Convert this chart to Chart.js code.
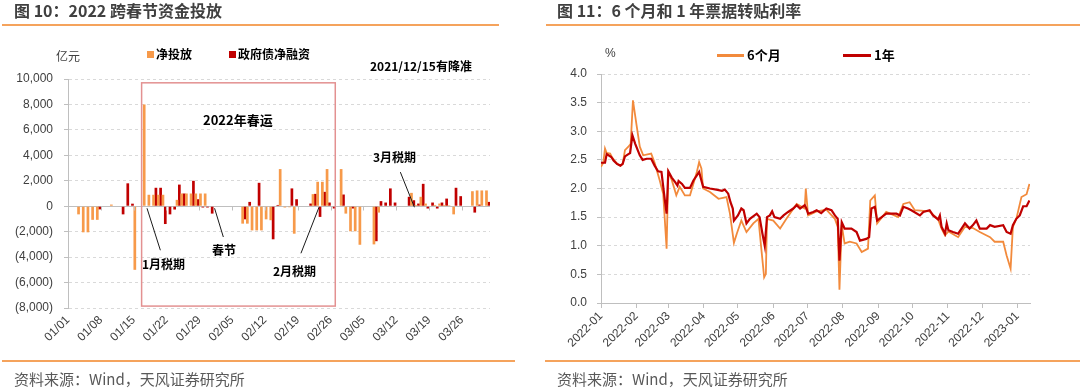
<!DOCTYPE html>
<html>
<head>
<meta charset="utf-8">
<title>2022 跨春节资金投放 / 票据转贴利率</title>
<script src="https://cdn.jsdelivr.net/npm/chart.js@4.4.1/dist/chart.umd.min.js"></script>
<style>
  body { margin: 0; width: 1080px; height: 390px; background: #fff; position: relative; overflow: hidden;
         font-family: 'Liberation Sans', 'Noto Sans CJK SC', sans-serif; }
  canvas { position: absolute; top: 0; }
  .t { position: absolute; line-height: 1; white-space: nowrap; color: #000; }
  .title { font-family: 'Noto Sans CJK SC', sans-serif; font-weight: bold; font-size: 16px; color: #404040; }
  .rule { position: absolute; height: 2px; background: #F5A35C; }
  .src { font-family: 'Noto Sans CJK SC', sans-serif; font-size: 15px; color: #595959; }
  .b { font-family: 'Noto Sans CJK SC', sans-serif; font-weight: bold; font-size: 12px; }
  .sq { position: absolute; width: 7px; height: 7px; }
  .ln { position: absolute; height: 3px; }
</style>
</head>
<body>
<canvas id="bars" width="540" height="390" style="left:0"></canvas>
<canvas id="rates" width="540" height="390" style="left:540px"></canvas>

<!-- left panel texts -->
<div class="t title" style="left:14px;top:2px">图 10：2022 跨春节资金投放</div>
<div class="rule" style="left:2px;top:24px;width:497px"></div>
<div class="t" style="left:56px;top:50px;font-size:12px;color:#404040;font-family:'Noto Sans CJK SC'">亿元</div>
<div class="sq" style="left:147px;top:51px;background:#F79A4A"></div>
<div class="t b" style="left:156px;top:48px">净投放</div>
<div class="sq" style="left:229px;top:51px;background:#C00000"></div>
<div class="t b" style="left:238px;top:48px">政府债净融资</div>
<div class="t b" style="left:370px;top:60px">2021/12/15有降准</div>
<div class="t b" style="left:203px;top:113px;font-size:13px">2022年春运</div>
<div class="t b" style="left:142px;top:258px">1月税期</div>
<div class="t b" style="left:212px;top:244px">春节</div>
<div class="t b" style="left:273px;top:265px">2月税期</div>
<div class="t b" style="left:373px;top:151px">3月税期</div>
<div class="rule" style="left:2px;top:360px;width:513px"></div>
<div class="t src" style="left:14px;top:371px">资料来源：Wind，天风证券研究所</div>

<!-- right panel texts -->
<div class="t title" style="left:557px;top:2px">图 11：6 个月和 1 年票据转贴利率</div>
<div class="rule" style="left:546px;top:24px;width:534px"></div>
<div class="t" style="left:605px;top:47px;font-size:12px;color:#404040">%</div>
<div class="ln" style="left:717px;top:54px;width:27px;background:#F28A3C"></div>
<div class="t b" style="left:747px;top:48px;font-size:13px">6个月</div>
<div class="ln" style="left:843px;top:54px;width:28px;background:#C00000"></div>
<div class="t b" style="left:874px;top:48px;font-size:13px">1年</div>
<div class="rule" style="left:545px;top:360px;width:535px"></div>
<div class="t src" style="left:557px;top:371px">资料来源：Wind，天风证券研究所</div>

<script>
// ---- chart 10: daily values, index 0 = 01/01 ... 89 = 03/31 (亿元)
const netInjection = [
  null, null, -640, -2050, -2050, -1070, -1070, null, null, 130,
  null, null, null, null, -5000, null, 8000, 900, 900, 900,
  900, null, null, 500, 1000, 1000, 1000, 1000, 1000, 1000,
  null, null, null, null, null, null, null, -1370, -1370, -1900,
  -1900, -1900, -1030, -1100, null, 2920, -100, -80, -2160, null,
  null, null, 950, 1920, 1920, 2920, null, null, 2920, -580,
  -1970, -1970, -3030, null, null, -3000, -500, null, null, null,
  null, null, null, 1050, 100, 740, 210, null, 100, 210,
  100, 80, -640, null, null, null, 1180, 1240, 1240, 1240
];
const govBondNet = [
  null, null, null, null, null, null, -250, null, null, null,
  null, -640, 1800, 200, null, null, null, null, 1450, 1450,
  -1400, -640, -260, 1700, 1000, null, 2000, 550, -100, -100,
  -580, null, null, null, null, null, null, -1030, 340, null,
  1840, null, null, -2600, 100, null, null, 1400, 550, null,
  null, 210, 970, -840, 1130, 290, -180, null, 920, null,
  -180, null, null, null, null, -2750, 400, 290, 1400, 290,
  null, null, 740, 470, 210, 1760, -180, 290, -180, 290,
  600, null, 1450, 790, null, null, -500, 130, null, 340
];
const barTickDays = [0, 7, 14, 21, 28, 35, 42, 49, 56, 63, 70, 77, 84];
const barTickLabels = ['01/01', '01/08', '01/15', '01/22', '01/29', '02/05', '02/12',
                       '02/19', '02/26', '03/05', '03/12', '03/19', '03/26'];

// annotations in data units (day, 亿元)
const springBox = { from: 15.7, to: 57, top: 9700, bottom: -7850 };
const leaderLines = [
  [16.85, -160, 19.7, -3460],   // 1月税期
  [31.26, -160, 33.13, -2420],  // 春节
  [49.68, -3700, 53.53, -80],   // 2月税期
  [70.88, 2680, 73.88, -80]     // 3月税期
];

// ---- chart 11: day offsets from 2022-01-01, rate in %
const rate1yDays = [0, 3.5, 5, 9, 11, 14, 17, 19, 21, 24, 25.5, 27.5, 30, 34, 36.5, 40, 44, 47, 50, 53,
  56, 57.5, 59, 62, 65, 67, 68, 71, 73.5, 78, 81, 84, 86, 88, 89.5, 95.5, 101, 106, 108.5, 111.5,
  113.5, 115.5, 116.5, 120, 123, 125, 127.5, 130.5, 136.5, 139, 141.5, 143.5, 145.5, 148, 150, 152, 157, 160, 164, 168.5,
  171.5, 174.5, 178.5, 180, 181.5, 186, 189, 193, 197.5, 202, 205, 207.5, 209, 211, 213.5, 219.5, 224, 227, 232.5, 235,
  237, 240, 242, 246, 250, 259, 262, 265, 269, 272, 279.5, 282.5, 288, 291, 295.5, 297, 298.5, 301.5, 303, 304.5,
  308.5, 313, 316, 319, 323, 326, 329, 332, 338, 341, 345, 352.5, 355.5, 359, 361, 364, 367, 370, 373, 375.5];
const rate1y = [2.45, 2.45, 2.60, 2.55, 2.49, 2.43, 2.40, 2.43, 2.56, 2.60, 2.62, 2.93, 2.78, 2.58, 2.50, 2.52, 2.52, 2.40, 2.30, 2.29,
  1.79, 1.56, 2.30, 2.19, 2.11, 2.05, 2.13, 2.08, 2.01, 2.01, 2.14, 2.23, 2.29, 2.14, 2.03, 2.00, 1.98, 1.96, 1.98, 1.91,
  1.76, 1.65, 1.44, 1.53, 1.65, 1.62, 1.39, 1.47, 1.56, 1.50, 1.21, 1.00, 1.50, 1.53, 1.60, 1.50, 1.47, 1.53, 1.59, 1.65,
  1.71, 1.65, 1.71, 1.65, 1.56, 1.59, 1.62, 1.57, 1.65, 1.62, 1.53, 1.47, 0.74, 1.41, 1.30, 1.30, 1.24, 1.09, 1.12, 1.15,
  1.65, 1.68, 1.44, 1.50, 1.56, 1.56, 1.53, 1.68, 1.65, 1.62, 1.53, 1.59, 1.62, 1.53, 1.46, 1.53, 1.33, 1.21, 1.39, 1.27,
  1.24, 1.21, 1.30, 1.39, 1.30, 1.36, 1.44, 1.30, 1.30, 1.36, 1.33, 1.36, 1.24, 1.21, 1.36, 1.47, 1.53, 1.69, 1.69, 1.79];
const rate6mDays = [0, 2, 3.5, 5, 8, 9.5, 14, 17, 19, 21, 24, 26, 28, 31, 34, 37, 44, 47, 51.5, 54.5,
  57.5, 59, 62, 66, 69, 73.5, 78, 84, 86, 88, 89.5, 95.5, 103, 110, 113, 116.5, 119, 123, 127.5, 133.5,
  138, 140.5, 143, 144.5, 145.5, 151, 157, 162.5, 171.5, 178.5, 179.5, 181.5, 189, 197.5, 205, 207.5, 209, 211, 213.5, 218,
  224, 228.5, 234, 236, 240, 242, 250, 260.5, 265, 270.5, 275, 288, 295.5, 298.5, 301.5, 304.5, 313, 319, 326, 332,
  338, 341, 345, 352.5, 355.5, 359, 361, 364, 368.5, 373, 375.5];
const rate6m = [2.38, 2.45, 2.70, 2.62, 2.61, 2.55, 2.43, 2.40, 2.43, 2.67, 2.73, 2.78, 3.54, 3.13, 2.73, 2.58, 2.61, 2.45, 2.14, 1.91,
  0.95, 2.29, 2.15, 1.88, 2.03, 1.88, 1.88, 2.29, 2.46, 2.35, 2.00, 1.94, 1.82, 1.85, 1.56, 1.05, 1.21, 1.44, 1.24, 1.39,
  1.47, 0.95, 0.45, 0.51, 1.47, 1.44, 1.30, 1.47, 1.73, 1.65, 2.00, 1.53, 1.60, 1.63, 1.47, 1.33, 0.23, 1.36, 1.04, 1.07,
  1.04, 0.89, 0.95, 1.79, 1.88, 1.39, 1.59, 1.50, 1.73, 1.76, 1.62, 1.60, 1.46, 1.30, 1.18, 1.25, 1.15, 1.33, 1.31, 1.24,
  1.18, 1.15, 1.07, 1.07, 0.83, 0.60, 1.33, 1.47, 1.85, 1.90, 2.08];
const rateMonthDays = [0, 31, 59, 90, 120, 151, 181, 212, 243, 273, 304, 334, 365];
const rateMonthLabels = ['2022-01', '2022-02', '2022-03', '2022-04', '2022-05', '2022-06', '2022-07',
                         '2022-08', '2022-09', '2022-10', '2022-11', '2022-12', '2023-01'];

Chart.defaults.font.family = "'Liberation Sans', 'Noto Sans CJK SC', sans-serif";
Chart.defaults.font.size = 12;
Chart.defaults.color = '#404040';

const axisGray = '#BFBFBF';
const gridGray = '#D9D9D9';

function fmtWan(v) {
  const s = Math.abs(v).toLocaleString('en-US');
  return v < 0 ? '(' + s + ')' : s;
}

const barAnnot = {
  id: 'barAnnot',
  afterDatasetsDraw(chart) {
    const { ctx, scales: { x, y } } = chart;
    ctx.save();
    // ticks on the zero line
    const y0 = Math.round(y.getPixelForValue(0)) + 0.5;
    ctx.strokeStyle = axisGray;
    ctx.lineWidth = 1;
    barTickDays.forEach(d => {
      const px = Math.round(x.getPixelForValue(d)) + 0.5;
      ctx.beginPath(); ctx.moveTo(px, y0); ctx.lineTo(px, y0 + 4); ctx.stroke();
    });
    // spring festival travel box
    ctx.strokeStyle = '#E39191';
    ctx.lineWidth = 1.5;
    const bx0 = x.getPixelForValue(springBox.from), bx1 = x.getPixelForValue(springBox.to);
    const by0 = y.getPixelForValue(springBox.top), by1 = y.getPixelForValue(springBox.bottom);
    ctx.strokeRect(bx0, by0, bx1 - bx0, by1 - by0);
    // leader lines
    ctx.strokeStyle = '#1a1a1a';
    ctx.lineWidth = 1;
    leaderLines.forEach(([d0, v0, d1, v1]) => {
      ctx.beginPath();
      ctx.moveTo(x.getPixelForValue(d0), y.getPixelForValue(v0));
      ctx.lineTo(x.getPixelForValue(d1), y.getPixelForValue(v1));
      ctx.stroke();
    });
    ctx.restore();
  }
};

new Chart(document.getElementById('bars'), {
  type: 'bar',
  data: {
    datasets: [
      { label: '净投放', data: netInjection.map((v, i) => ({ x: i + 0.5, y: v })),
        backgroundColor: '#F79A4A', categoryPercentage: 1, barPercentage: 1.15 },
      { label: '政府债净融资', data: govBondNet.map((v, i) => ({ x: i + 0.5, y: v })),
        backgroundColor: '#C00000', categoryPercentage: 1, barPercentage: 1.15 }
    ]
  },
  options: {
    responsive: false,
    animation: false,
    layout: { padding: { left: 0, top: 79, right: 50, bottom: 0 } },
    plugins: { legend: { display: false }, tooltip: { enabled: false } },
    scales: {
      x: {
        type: 'linear', min: 0, max: 90, offset: false,
        afterBuildTicks: s => { s.ticks = barTickDays.map(v => ({ value: v })); },
        afterFit: s => { s.height = 82; },
        grid: { display: false, drawTicks: false, offset: false },
        border: { display: false },
        ticks: { autoSkip: false, minRotation: 45, maxRotation: 45, padding: 5,
                 callback: (v, i) => barTickLabels[i] }
      },
      y: {
        min: -8000, max: 10000,
        afterFit: s => { s.width = 68; },
        ticks: { stepSize: 2000, padding: 11, callback: v => fmtWan(v) },
        grid: {
          color: c => (c.tick && c.tick.value === 0) ? axisGray : gridGray,
          drawTicks: true, tickLength: 4, tickColor: axisGray
        },
        border: { display: true, color: axisGray, width: 1,
                  dash: c => (c.tick && c.tick.value === 0) ? [] : [3, 3] }
      }
    }
  },
  plugins: [barAnnot]
});

new Chart(document.getElementById('rates'), {
  type: 'line',
  data: {
    datasets: [
      { label: '1年', data: rate1yDays.map((d, i) => ({ x: d, y: rate1y[i] })),
        borderColor: '#C00000', borderWidth: 2.2, pointRadius: 0, tension: 0 },
      { label: '6个月', data: rate6mDays.map((d, i) => ({ x: d, y: rate6m[i] })),
        borderColor: '#F28A3C', borderWidth: 1.8, pointRadius: 0, tension: 0 }
    ]
  },
  options: {
    responsive: false,
    animation: false,
    layout: { padding: { left: 0, top: 74, right: 50, bottom: 0 } },
    plugins: { legend: { display: false }, tooltip: { enabled: false } },
    scales: {
      x: {
        type: 'linear', min: 0, max: 376,
        afterBuildTicks: s => { s.ticks = rateMonthDays.map(v => ({ value: v })); },
        afterFit: s => { s.height = 87; },
        grid: { display: true, drawOnChartArea: false, drawTicks: true, tickLength: 5, color: axisGray },
        border: { display: true, color: axisGray },
        ticks: { autoSkip: false, minRotation: 45, maxRotation: 45, padding: 1,
                 callback: (v, i) => rateMonthLabels[i] }
      },
      y: {
        min: 0, max: 4,
        afterFit: s => { s.width = 61; },
        ticks: { stepSize: 0.5, padding: 10, callback: v => v.toFixed(1) },
        grid: { color: gridGray, drawTicks: true, tickLength: 4, tickColor: axisGray },
        border: { display: true, color: axisGray, dash: [3, 3] }
      }
    }
  }
});
</script>
</body>
</html>
